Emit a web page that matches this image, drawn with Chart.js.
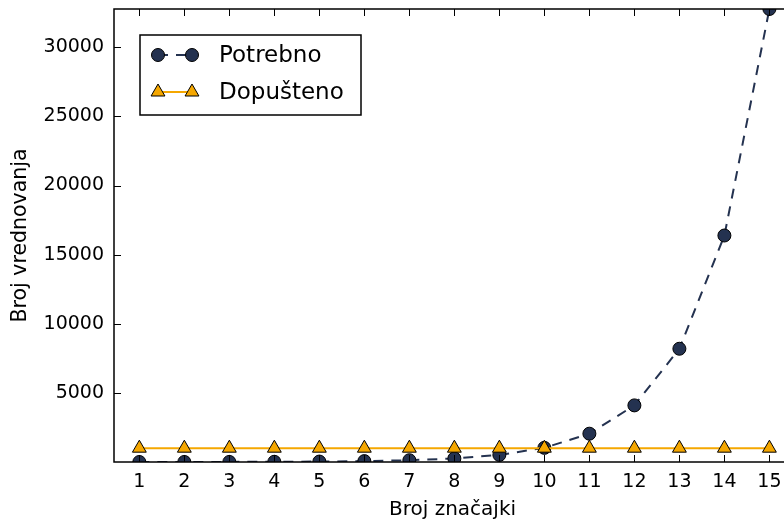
<!DOCTYPE html>
<html>
<head>
<meta charset="utf-8">
<script src="https://cdn.jsdelivr.net/npm/chart.js@4.4.0/dist/chart.umd.min.js"></script>
<style>
  html, body { margin: 0; padding: 0; background: #fff; overflow: hidden; }
  #wrap { width: 800px; height: 519px; }
</style>
</head>
<body>
<div id="wrap"><canvas id="chart" width="800" height="519"></canvas></div>
<script>
// podaci
const brojZnacajki = [1, 2, 3, 4, 5, 6, 7, 8, 9, 10, 11, 12, 13, 14, 15];
const potrebno = [2, 4, 8, 16, 32, 64, 128, 256, 512, 1024, 2048, 4096, 8192, 16384, 32768];
const dopusteno = [1000, 1000, 1000, 1000, 1000, 1000, 1000, 1000, 1000, 1000, 1000, 1000, 1000, 1000, 1000];
const yTicks = [5000, 10000, 15000, 20000, 25000, 30000];
const seriesNames = ['Potrebno', 'Dopušteno'];
const axisTitles = ['Broj značajki', 'Broj vrednovanja'];

const NAVY = '#243250';
const ORANGE = '#f5a700';
const FONT = 'DejaVu Sans';

// okviri i unutarnje crtice kao u matplotlibu
const spinesPlugin = {
    id: 'spines',
    afterDatasetsDraw(chart) {
        const ctx = chart.ctx;
        const a = chart.chartArea;
        const xs = chart.scales.x;
        const ys = chart.scales.y;
        ctx.save();
        ctx.strokeStyle = '#000';
        ctx.lineWidth = 1;
        brojZnacajki.forEach(v => {
            const px = Math.round(xs.getPixelForValue(v)) + 0.5;
            ctx.beginPath();
            ctx.moveTo(px, a.bottom); ctx.lineTo(px, a.bottom - 7);
            ctx.moveTo(px, a.top); ctx.lineTo(px, a.top + 7);
            ctx.stroke();
        });
        yTicks.forEach(v => {
            const py = Math.round(ys.getPixelForValue(v)) + 0.5;
            ctx.beginPath();
            ctx.moveTo(a.left, py); ctx.lineTo(a.left + 7, py);
            ctx.moveTo(a.right, py); ctx.lineTo(a.right - 7, py);
            ctx.stroke();
        });
        ctx.lineWidth = 1.5;
        ctx.strokeRect(a.left, a.top, a.right - a.left, a.bottom - a.top);
        ctx.restore();
    },
    afterDraw(chart) {
        // legenda s dva markera po retku
        const ctx = chart.ctx;
        const ds = chart.data.datasets;
        const box = { x: 140, y: 35, w: 221, h: 80 };
        ctx.save();
        ctx.fillStyle = '#fff';
        ctx.fillRect(box.x, box.y, box.w, box.h);
        ctx.strokeStyle = '#000';
        ctx.lineWidth = 1.5;
        ctx.strokeRect(box.x, box.y, box.w, box.h);
        const rows = [55, 92];
        ds.forEach((d, i) => {
            const y = rows[i];
            ctx.save();
            ctx.strokeStyle = d.borderColor;
            ctx.lineWidth = d.borderWidth;
            ctx.setLineDash(d.borderDash || []);
            ctx.beginPath();
            ctx.moveTo(158, y); ctx.lineTo(192, y);
            ctx.stroke();
            ctx.restore();
            [158, 192].forEach(x => {
                ctx.fillStyle = d.pointBackgroundColor;
                ctx.strokeStyle = d.pointBorderColor;
                ctx.lineWidth = d.pointBorderWidth;
                Chart.helpers.drawPoint(ctx, {
                    pointStyle: d.pointStyle,
                    radius: d.pointRadius,
                    borderWidth: d.pointBorderWidth,
                    rotation: 0
                }, x, y);
            });
            ctx.fillStyle = '#000';
            ctx.font = '23px "' + FONT + '"';
            ctx.textBaseline = 'middle';
            ctx.fillText(d.label, 219, y + 1);
        });
        ctx.restore();
    }
};

const ctx = document.getElementById('chart').getContext('2d');
const chart = new Chart(ctx, {
    type: 'line',
    data: {
        datasets: [{
            label: seriesNames[0],
            data: brojZnacajki.map((x, i) => ({ x: x, y: potrebno[i] })),
            borderColor: NAVY,
            borderWidth: 2,
            borderDash: [10, 8],
            pointStyle: 'circle',
            pointRadius: 6.5,
            pointBackgroundColor: NAVY,
            pointBorderColor: '#000',
            pointBorderWidth: 1,
            clip: 0,
            order: 2
        }, {
            label: seriesNames[1],
            data: brojZnacajki.map((x, i) => ({ x: x, y: dopusteno[i] })),
            borderColor: ORANGE,
            borderWidth: 2,
            pointStyle: 'triangle',
            pointRadius: 8,
            pointBackgroundColor: ORANGE,
            pointBorderColor: '#000',
            pointBorderWidth: 1,
            clip: 0,
            order: 1
        }]
    },
    options: {
        responsive: false,
        animation: false,
        layout: { padding: { left: 0, right: 2, top: 9, bottom: 0 } },
        plugins: {
            legend: { display: false },
            tooltip: { enabled: false }
        },
        scales: {
            x: {
                type: 'linear',
                min: 0.437,
                max: 15.48,
                afterBuildTicks: s => { s.ticks = brojZnacajki.map(v => ({ value: v })); },
                afterFit: s => { s.height = 57; s.paddingLeft = 0; s.paddingRight = 0; },
                grid: { display: false, drawTicks: false },
                border: { display: false },
                ticks: {
                    color: '#000',
                    padding: 9,
                    maxRotation: 0,
                    autoSkip: false,
                    font: { family: FONT, size: 19 },
                    callback: v => String(v)
                },
                title: {
                    display: true,
                    text: axisTitles[0],
                    color: '#000',
                    padding: { top: 0, bottom: -3 },
                    font: { family: FONT, size: 20 }
                }
            },
            y: {
                min: 0,
                max: 32768,
                afterBuildTicks: s => { s.ticks = yTicks.map(v => ({ value: v })); },
                afterFit: s => { s.width = 114; s.paddingTop = 0; s.paddingBottom = 0; },
                grid: { display: false, drawTicks: false },
                border: { display: false },
                ticks: {
                    color: '#000',
                    padding: 10,
                    font: { family: FONT, size: 19 },
                    callback: v => String(v)
                },
                title: {
                    display: true,
                    text: axisTitles[1],
                    color: '#000',
                    padding: { top: 8, bottom: 0 },
                    font: { family: FONT, size: 20.5 }
                }
            }
        }
    },
    plugins: [spinesPlugin]
});
</script>
</body>
</html>
